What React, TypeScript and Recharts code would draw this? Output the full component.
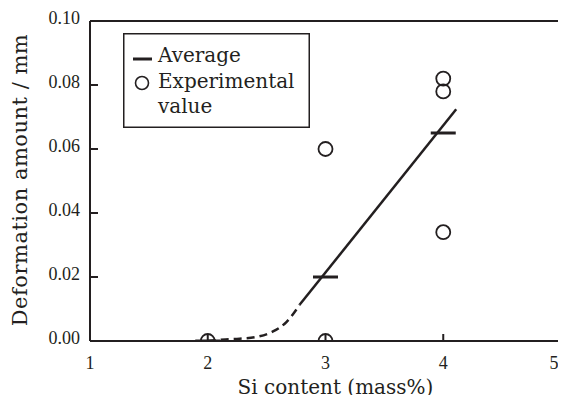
import {
  ComposedChart,
  Line,
  Scatter,
  XAxis,
  YAxis,
  Legend,
  ReferenceLine,
} from "recharts"

const INK = "#231f20"
const LABEL_FONT = "DejaVu Serif"
const TICK_FONT = "'Liberation Serif', 'Times New Roman', serif"

const xTicks = [1, 2, 3, 4, 5]
const yTicks = [0, 0.02, 0.04, 0.06, 0.08, 0.1]

// measured points (circles)
const experimental = [
  { x: 2, y: 0 },
  { x: 3, y: 0.06 },
  { x: 3, y: 0 },
  { x: 4, y: 0.082 },
  { x: 4, y: 0.078 },
  { x: 4, y: 0.034 },
]

// averages (short horizontal bars)
const average = [
  { x: 2, y: 0 },
  { x: 3, y: 0.02 },
  { x: 4, y: 0.065 },
]

// solid trend line
const trendSolid = [
  { x: 2.78, y: 0.0113 },
  { x: 4.11, y: 0.0724 },
]

// dashed extrapolation near the origin
const trendDashed = [
  { x: 2.0, y: 0 },
  { x: 2.15, y: 0.0005 },
  { x: 2.27, y: 0.0007 },
  { x: 2.42, y: 0.0013 },
  { x: 2.55, y: 0.0029 },
  { x: 2.67, y: 0.006 },
  { x: 2.78, y: 0.0113 },
]

const CircleMark = (props: any) => (
  <circle cx={props.cx} cy={props.cy} r={7} fill="none" stroke={INK} strokeWidth={1.8} />
)

const BarMark = (props: any) => (
  <line x1={props.cx - 12.5} x2={props.cx + 12.5} y1={props.cy} y2={props.cy} stroke={INK} strokeWidth={3} />
)

const XTick = (props: any) => (
  <text x={props.x} y={props.y} dy={13} textAnchor="middle" fill={INK} fontSize={18} fontFamily={TICK_FONT}>
    {props.payload.value}
  </text>
)

const YTick = (props: any) => (
  <text x={props.x} y={props.y} dy={3} textAnchor="end" fill={INK} fontSize={18} fontFamily={TICK_FONT}>
    {Number(props.payload.value).toFixed(2)}
  </text>
)

function LegendBox() {
  return (
    <svg width={187} height={95} style={{ display: "block" }}>
      <rect x={0.75} y={0.75} width={185.5} height={93.5} fill="#fff" stroke={INK} strokeWidth={1.5} />
      <line x1={10} x2={29} y1={26} y2={26} stroke={INK} strokeWidth={3} />
      <circle cx={19} cy={50} r={6.5} fill="none" stroke={INK} strokeWidth={1.6} />
      <g fontFamily={LABEL_FONT} fontSize={20} fill={INK}>
        <text x={35} y={29}>Average</text>
        <text x={35} y={55}>Experimental</text>
        <text x={35} y={80}>value</text>
      </g>
    </svg>
  )
}

export default function App() {
  return (
    <div style={{ width: 550, height: 387 }}>
      <style>{`.recharts-surface { overflow: visible; }`}</style>
      <ComposedChart width={550} height={387} margin={{ top: 13, right: -3, left: 0, bottom: 4 }}>
        <XAxis
          type="number"
          dataKey="x"
          domain={[1, 5]}
          ticks={xTicks}
          allowDataOverflow
          stroke={INK}
          strokeWidth={2}
          tickSize={-7}
          tickMargin={22}
          height={50}
          tick={<XTick />}
          label={{
            value: "Si content (mass%)",
            position: "insideBottom",
            offset: -3,
            dx: 10,
            style: { fill: INK, fontSize: 20, fontFamily: LABEL_FONT },
          }}
        />
        <YAxis
          type="number"
          dataKey="y"
          domain={[0, 0.1]}
          ticks={yTicks}
          allowDataOverflow
          width={82}
          stroke={INK}
          strokeWidth={2}
          tickSize={-8}
          tickMargin={18}
          tick={<YTick />}
          label={() => (
            <text
              x={12}
              y={172}
              transform="rotate(-90, 12, 172)"
              textAnchor="middle"
              dominantBaseline="central"
              fill={INK}
              fontSize={21}
              letterSpacing={0.5}
              fontFamily={LABEL_FONT}
            >
              Deformation amount / mm
            </text>
          )}
        />
        <ReferenceLine y={0.1} stroke={INK} strokeWidth={2} />
        <ReferenceLine x={5} stroke={INK} strokeWidth={2} />
        <Legend
          layout="horizontal"
          verticalAlign="middle"
          align="center"
          content={() => <LegendBox />}
          wrapperStyle={{ position: "absolute", left: 115, top: 25, width: 187, height: 95 }}
        />
        <Line data={trendDashed} dataKey="y" type="monotone" stroke={INK} strokeWidth={2.5} strokeDasharray="8 5" dot={false} activeDot={false} legendType="none" isAnimationActive={false} />
        <Line data={trendSolid} dataKey="y" type="linear" stroke={INK} strokeWidth={2.5} dot={false} activeDot={false} legendType="none" isAnimationActive={false} />
        <Scatter data={average} shape={BarMark} legendType="none" isAnimationActive={false} />
        <Scatter data={experimental} shape={CircleMark} legendType="none" isAnimationActive={false} />
      </ComposedChart>
    </div>
  )
}
